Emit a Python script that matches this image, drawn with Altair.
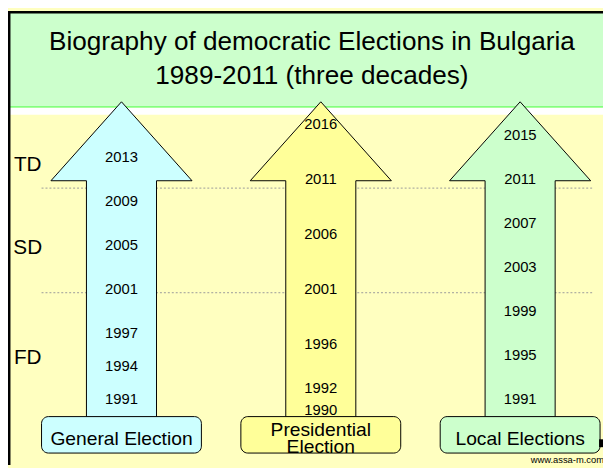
import altair as alt
import pandas as pd

# ---- data ----
categories = ["General Election", "Presidential Election", "Local Elections"]
box_labels = ["General Election", "Presidential\nElection", "Local Elections"]
general_years = [1991, 1994, 1997, 2001, 2005, 2009, 2013]
presidential_years = [1990, 1992, 1996, 2001, 2006, 2011, 2016]
local_years = [1991, 1995, 1999, 2003, 2007, 2011, 2015]
decade_labels = ["FD", "SD", "TD"]
decade_label_years = [1994.7, 2004.7, 2012.3]
decade_boundaries = [2000.5, 2010]
title_lines = ["Biography of democratic Elections in Bulgaria", "1989-2011 (three decades)"]
watermark = "www.assa-m.com"
arrow_colors = ["#CCFFFF", "#FFFF99", "#CCFFCC"]

# ---- layout / style constants ----
W, H = 603, 460
FONT = "Liberation Sans"
XDOM = [-0.5693, 2.4158]
YDOM = [1984.86, 2026.08]
PX_PER_YEAR = H / (YDOM[1] - YDOM[0])
xs = alt.Scale(domain=XDOM, nice=False, zero=False)
ys = alt.Scale(domain=YDOM, nice=False, zero=False)
cs = alt.Scale(domain=categories, range=arrow_colors)

HEAD_BASE = 2010.67          # year level of the arrow-head base
BOX_TOP, BOX_BOTTOM, BOX_TEXT = 1989.25, 1985.94, 1987.45
W_BOX = 0.401
LINE_H = 17
# arrow outline (symbol units, 1 unit = half the head width)
ARROW_PATH = "M-1,0L0,-1.1189L1,0L0.4965,0L0.4965,3.35L-0.4965,3.35L-0.4965,0Z"
ARROW_SIZE = 143 ** 2

arrow_df = pd.DataFrame({"cat": categories, "x": list(range(len(categories))),
                         "y": [HEAD_BASE] * len(categories)})

year_rows = []
for i, (c, yrs) in enumerate(zip(categories, [general_years, presidential_years, local_years])):
    for y in yrs:
        year_rows.append({"cat": c, "x": i, "year": y, "label": str(y)})
years_df = pd.DataFrame(year_rows)

box_df = pd.DataFrame({
    "cat": categories,
    "label": box_labels,
    "x": [i for i in range(len(categories))],
    "xl": [i - W_BOX for i in range(len(categories))],
    "xr": [i + W_BOX for i in range(len(categories))],
    "yt": BOX_TOP, "yb": BOX_BOTTOM,
    "yc": [BOX_TEXT + (lab.count("\n") * LINE_H / 2) / PX_PER_YEAR for lab in box_labels],
})
decade_df = pd.DataFrame({"label": decade_labels, "y": decade_label_years})
bound_df = pd.DataFrame({"y": decade_boundaries})
title_df = pd.DataFrame({"t": ["\n".join(title_lines)]})
wm_df = pd.DataFrame({"t": [watermark]})
dummy = pd.DataFrame({"d": [0]})

header = alt.Chart(dummy).mark_rect(color="#CCFFCC").encode(
    x=alt.value(0), x2=alt.value(W), y=alt.value(0), y2=alt.value(97))
green_line = alt.Chart(dummy).mark_rect(color="#66FF66").encode(
    x=alt.value(0), x2=alt.value(W), y=alt.value(96.5), y2=alt.value(98))
white_strip = alt.Chart(dummy).mark_rect(color="#FFFFFF").encode(
    x=alt.value(0), x2=alt.value(W), y=alt.value(98), y2=alt.value(105))

rules = alt.Chart(bound_df).mark_rule(color="#9a9a9a", strokeDash=[2, 2], strokeWidth=1).encode(
    x=alt.value(34), x2=alt.value(594),
    y=alt.Y("y:Q", scale=ys, axis=None))

arrows = alt.Chart(arrow_df).mark_point(shape=ARROW_PATH, size=ARROW_SIZE, filled=True,
                                        stroke="black", strokeWidth=1, opacity=1).encode(
    x=alt.X("x:Q", scale=xs, axis=None),
    y=alt.Y("y:Q", scale=ys, axis=None),
    fill=alt.Fill("cat:N", scale=cs, legend=None),
)

year_text = alt.Chart(years_df).mark_text(font=FONT, fontSize=15, color="black", dy=2,
                                          align="center", baseline="middle").encode(
    x=alt.X("x:Q", scale=xs, axis=None),
    y=alt.Y("year:Q", scale=ys, axis=None),
    text="label:N")

boxes = alt.Chart(box_df).mark_rect(cornerRadius=7, stroke="black", strokeWidth=1, opacity=1).encode(
    x=alt.X("xl:Q", scale=xs, axis=None), x2="xr:Q",
    y=alt.Y("yt:Q", scale=ys, axis=None), y2="yb:Q",
    fill=alt.Fill("cat:N", scale=cs, legend=None))

box_text = alt.Chart(box_df).mark_text(font=FONT, fontSize=19.5, color="black", lineBreak="\n",
                                       lineHeight=LINE_H, align="center", baseline="middle",
                                       dy=2.5).encode(
    x=alt.X("x:Q", scale=xs, axis=None),
    y=alt.Y("yc:Q", scale=ys, axis=None),
    text="label:N")

decade_text = alt.Chart(decade_df).mark_text(font=FONT, fontSize=21, color="black", dy=2,
                                             align="center", baseline="middle").encode(
    x=alt.value(20),
    y=alt.Y("y:Q", scale=ys, axis=None),
    text="label:N")

title = alt.Chart(title_df).mark_text(font=FONT, fontSize=26.5, color="black", lineBreak="\n",
                                      lineHeight=35, align="center", baseline="middle").encode(
    x=alt.value(308), y=alt.value(31), text="t:N")

wm = alt.Chart(wm_df).mark_text(font=FONT, fontSize=9.5, color="black",
                                align="right", baseline="middle").encode(
    x=alt.value(W + 1), y=alt.value(455), text="t:N")

corner_mark = alt.Chart(dummy).mark_rect(color="black").encode(
    x=alt.value(599), x2=alt.value(W), y=alt.value(434), y2=alt.value(442))

border_left = alt.Chart(dummy).mark_rect(color="black").encode(
    x=alt.value(0), x2=alt.value(2.5), y=alt.value(0), y2=alt.value(H))
border_top = alt.Chart(dummy).mark_rect(color="black").encode(
    x=alt.value(0), x2=alt.value(W), y=alt.value(0), y2=alt.value(2.5))

chart = alt.layer(
    header, green_line, white_strip, rules, arrows, year_text, boxes, box_text,
    decade_text, title, wm, corner_mark, border_left, border_top
).properties(
    width=W, height=H, padding=0, background="#FFFFC0",
    autosize=alt.AutoSizeParams(type="none"),
).configure_view(strokeWidth=0)

chart.save("out.html", embed_options={"renderer": "svg", "actions": False})
